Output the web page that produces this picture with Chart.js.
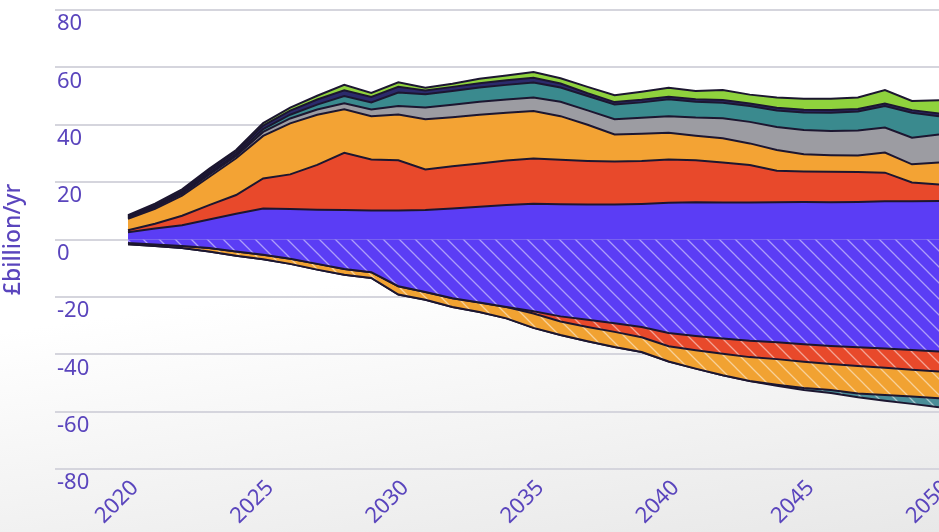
<!DOCTYPE html>
<html>
<head>
<meta charset="utf-8">
<script src="https://cdn.jsdelivr.net/npm/chart.js@4.4.1/dist/chart.umd.min.js"></script>
<style>
html, body { margin: 0; padding: 0; }
body { width: 939px; height: 532px; overflow: hidden; background: linear-gradient(172deg, #ffffff 0%, #ffffff 50%, #e8e8e8 100%); }
#wrap { width: 939px; height: 532px; position: relative; }
</style>
</head>
<body>
<div id="wrap"><canvas id="chart"></canvas></div>
<script>
// Years and tick labels
const years = [2020,2021,2022,2023,2024,2025,2026,2027,2028,2029,2030,2031,2032,2033,2034,2035,
               2036,2037,2038,2039,2040,2041,2042,2043,2044,2045,2046,2047,2048,2049,2050];
const xTicks = [2020, 2025, 2030, 2035, 2040, 2045, 2050];

// Positive layers (£bn/yr), bottom to top
const purple = [2.5,3.8,5.0,7.0,9.0,10.8,10.6,10.4,10.3,10.1,10.1,10.3,10.8,11.4,12.0,12.5,12.3,12.2,12.2,12.4,12.8,13.0,12.9,12.9,13.0,13.1,13.0,13.1,13.3,13.3,13.4];
const red    = [0.7,1.7,3.3,5.0,6.5,10.5,12.1,15.6,19.9,17.8,17.5,14.1,14.7,15.1,15.5,15.7,15.5,15.2,15.0,15.0,15.1,14.6,13.9,13.1,11.0,10.6,10.6,10.4,10.0,6.6,5.8];
const orange = [4.0,5.2,7.0,9.8,12.8,14.8,17.8,17.5,15.2,15.1,16.0,17.5,17.1,17.0,16.7,16.6,15.2,12.6,9.4,9.5,9.3,8.6,8.5,7.5,7.2,6.0,5.8,5.8,7.0,6.3,7.6];
const grey   = [0.3,0.5,0.6,0.8,0.8,1.4,1.7,1.8,2.1,2.3,2.9,4.1,4.4,4.5,4.6,4.7,5.0,5.0,5.3,5.5,5.8,6.3,7.0,7.5,8.0,8.5,8.4,8.7,8.7,9.3,9.8];
const teal   = [0.3,0.3,0.4,0.6,0.6,1.0,1.3,1.7,2.5,2.5,4.7,4.6,4.8,5.0,5.1,5.2,5.0,5.0,5.2,5.4,5.9,5.5,5.4,5.5,5.8,6.1,6.4,6.6,7.5,8.7,6.4];
const navy   = [0.3,0.5,0.6,0.8,0.9,1.2,1.4,1.8,2.0,1.9,2.0,1.3,1.4,1.5,1.6,1.7,1.4,1.0,0.8,0.9,0.9,0.9,0.9,0.9,0.9,0.9,0.9,0.9,0.9,0.9,0.9];
const green  = [0.4,0.5,0.6,0.6,0.6,0.9,1.1,1.3,1.9,1.4,1.6,1.0,1.1,1.5,1.7,2.0,1.8,2.2,2.4,2.8,3.1,2.9,3.5,3.1,3.6,3.9,4.0,4.0,4.7,3.2,4.6];

// Negative layers (hatched), top to bottom
const negPurple = [-1.2,-1.7,-2.3,-3.0,-4.2,-5.3,-6.7,-8.5,-10.3,-11.4,-16.3,-18.3,-20.5,-22.0,-23.5,-25.0,-26.8,-28.0,-29.2,-30.5,-32.6,-33.6,-34.5,-35.3,-35.8,-36.5,-37.1,-37.6,-38.0,-38.5,-39.0];
const negRed    = [0,0,0,0,0,0,0,0,0,0,0,0,0,0,0,-0.8,-1.8,-2.5,-3.0,-3.6,-4.6,-5.0,-5.3,-5.7,-5.9,-6.1,-6.3,-6.5,-6.7,-6.9,-7.0];
const negOrange = [-0.5,-0.6,-0.7,-1.2,-1.5,-1.6,-1.8,-2.0,-2.0,-2.0,-2.9,-2.7,-3.0,-3.3,-4.0,-5.0,-4.7,-5.0,-5.3,-5.1,-5.3,-6.4,-7.5,-8.3,-8.9,-9.2,-9.1,-9.6,-9.5,-9.3,-9.3];
const negTeal   = [0,0,0,0,0,0,0,0,0,0,0,0,0,0,0,0,0,0,0,0,0,0,0,0,-0.4,-0.7,-1.0,-1.3,-2.0,-2.6,-3.2];

const textColor = '#5a45bd';
const edge = '#1c1630';
const fontFamily = '"Noto Sans", sans-serif';

function hatch(base) {
    const s = 16;
    const c = document.createElement('canvas');
    c.width = s; c.height = s;
    const g = c.getContext('2d');
    g.fillStyle = base;
    g.fillRect(0, 0, s, s);
    g.strokeStyle = 'rgba(255,255,255,0.5)';
    g.lineWidth = 1.3;
    g.beginPath();
    g.moveTo(-2, -2); g.lineTo(s + 2, s + 2);
    g.moveTo(-2, s - 2); g.lineTo(2, s + 2);
    g.moveTo(s - 2, -2); g.lineTo(s + 2, 2);
    g.stroke();
    return g.createPattern(c, 'repeat');
}

function series(values, fill, bg, stack) {
    return {
        data: values.map((v, i) => ({ x: years[i], y: v })),
        backgroundColor: bg,
        borderColor: edge,
        borderWidth: 2,
        fill: fill,
        stack: stack,
        pointRadius: 0,
        tension: 0
    };
}

const datasets = [
    series(purple, 'origin', '#5b3df5', 'pos'),
    series(red, '-1', '#e8492b', 'pos'),
    series(orange, '-1', '#f3a334', 'pos'),
    series(grey, '-1', '#9c9ca2', 'pos'),
    series(teal, '-1', '#3a8a8e', 'pos'),
    series(navy, '-1', '#2b2a6b', 'pos'),
    series(green, '-1', '#8fd23d', 'pos'),
    series(negPurple, 'origin', hatch('#5b3df5'), 'neg'),
    series(negRed, '-1', hatch('#e8492b'), 'neg'),
    series(negOrange, '-1', hatch('#f1a232'), 'neg'),
    series(negTeal, '-1', hatch('#4a8d98'), 'neg')
];

new Chart(document.getElementById('chart'), {
    type: 'line',
    data: { datasets: datasets },
    options: {
        responsive: true,
        maintainAspectRatio: false,
        animation: false,
        layout: { padding: { top: 10, left: 0, right: 0, bottom: 0 } },
        plugins: {
            legend: { display: false },
            tooltip: { enabled: false }
        },
        scales: {
            x: {
                type: 'linear',
                min: 2017.3,
                max: 2050,
                grid: { display: false, drawTicks: false },
                border: { display: false },
                afterBuildTicks: function(scale) {
                    scale.ticks = xTicks.map(v => ({ value: v }));
                },
                afterFit: function(scale) {
                    scale.height = 63;
                    scale.paddingLeft = 0;
                    scale.paddingRight = 0;
                },
                ticks: {
                    autoSkip: false,
                    minRotation: 45,
                    maxRotation: 45,
                    padding: 6,
                    labelOffset: 7,
                    color: textColor,
                    font: { family: fontFamily, size: 22 },
                    callback: v => String(v)
                }
            },
            y: {
                stacked: true,
                min: -80,
                max: 80,
                afterFit: function(scale) {
                    scale.width = 55;
                    scale.paddingTop = 0;
                    scale.paddingBottom = 0;
                },
                grid: { color: '#d5d5dd', lineWidth: 2, drawTicks: false },
                border: { display: false },
                ticks: {
                    mirror: true,
                    stepSize: 20,
                    padding: 2,
                    labelOffset: 14,
                    color: textColor,
                    font: { family: fontFamily, size: 22 }
                },
                title: {
                    display: true,
                    text: '£billion/yr',
                    color: textColor,
                    font: { family: fontFamily, size: 23, weight: '500' },
                    padding: 0
                }
            }
        }
    }
});
</script>
</body>
</html>
